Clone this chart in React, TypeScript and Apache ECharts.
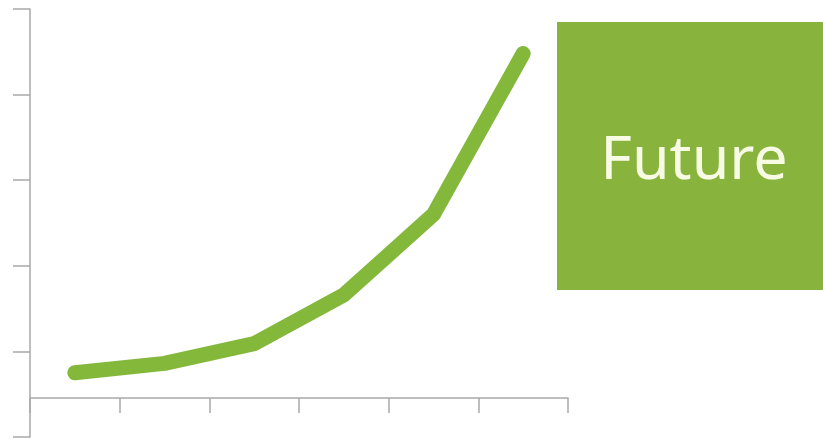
import React, { useEffect, useRef } from "react";
import * as echarts from "echarts";

const categories = ["1", "2", "3", "4", "5", "6"];
const values = [0.75, 0.86, 1.09, 1.66, 2.6, 4.48];
const boxLabel = "Future";

export default function App() {
  const ref = useRef<HTMLDivElement>(null);
  useEffect(() => {
    const chart = echarts.init(ref.current!, null, { renderer: "svg" });
    chart.setOption({
      animation: false,
      backgroundColor: "#ffffff",
      grid: { left: 30, top: 9, right: 255, bottom: 2 },
      xAxis: {
        type: "category",
        data: categories,
        boundaryGap: true,
        offset: -39,
        axisLine: { onZero: false, lineStyle: { color: "#a9a9a9", width: 1.5 } },
        axisTick: { show: true, length: 15, lineStyle: { color: "#a9a9a9", width: 1.5 } },
        axisLabel: { show: false },
        splitLine: { show: false },
      },
      yAxis: {
        type: "value",
        min: 0,
        max: 5,
        interval: 1,
        axisLine: { show: true, lineStyle: { color: "#a9a9a9", width: 1.5 } },
        axisTick: { show: true, length: 17, lineStyle: { color: "#a9a9a9", width: 1.5 } },
        axisLabel: { show: false },
        splitLine: { show: false },
      },
      series: [
        {
          type: "line",
          data: values,
          symbol: "none",
          lineStyle: { color: "#84b83a", width: 15, cap: "round", join: "round" },
        },
      ],
      graphic: [
        {
          type: "rect",
          shape: { x: 557, y: 22, width: 266, height: 268 },
          style: { fill: "#88b43e" },
        },
        {
          type: "text",
          x: 694,
          y: 155,
          style: {
            text: boxLabel,
            fill: "#f8fbe4",
            font: "61px 'Noto Sans'",
            align: "center",
            verticalAlign: "middle",
          },
        },
      ],
    });
    return () => chart.dispose();
  }, []);
  return <div ref={ref} style={{ width: 823, height: 439, position: "fixed", left: 0, top: 0 }} />;
}
